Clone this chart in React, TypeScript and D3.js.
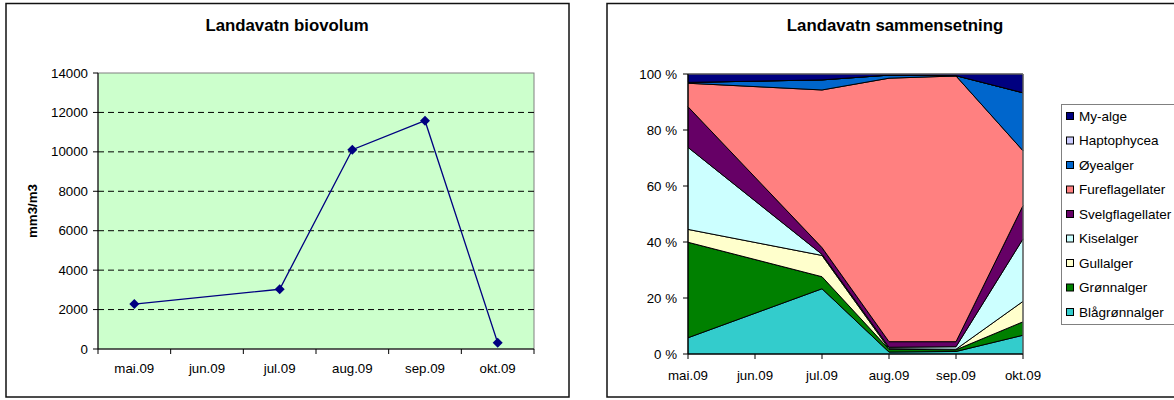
import React from "react";
import * as d3 from "d3";

const months = ["mai.09", "jun.09", "jul.09", "aug.09", "sep.09", "okt.09"];
const biovolum: (number | null)[] = [2280, null, 3030, 10110, 11580, 320];
const yTicksLeft = [0, 2000, 4000, 6000, 8000, 10000, 12000, 14000];
const yTicksRight = [0, 0.2, 0.4, 0.6, 0.8, 1];

// percentage composition per month (null = no sample)
const blagronnalger: (number | null)[] = [5.8, null, 23.3, 0.7, 0.9, 6.7];
const gronnalger: (number | null)[] = [34.1, null, 4.3, 1.0, 0.6, 4.8];
const gullalger: (number | null)[] = [4.6, null, 7.6, 0.2, 0.2, 7.3];
const kiselalger: (number | null)[] = [29.3, null, 0.4, 0.5, 0.9, 22.3];
const svelgflagellater: (number | null)[] = [14.5, null, 2.4, 2.0, 1.8, 11.9];
const fureflagellater: (number | null)[] = [8.4, null, 56.3, 94.1, 94.9, 19.6];
const oyealger: (number | null)[] = [0.3, null, 3.6, 1.1, 0.1, 20.7];
const haptophycea: (number | null)[] = [0, null, 0, 0, 0, 0];
const myalge: (number | null)[] = [3.0, null, 2.1, 0.4, 0.6, 6.7];

const seriesNames = [
  "Blågrønnalger",
  "Grønnalger",
  "Gullalger",
  "Kiselalger",
  "Svelgflagellater",
  "Fureflagellater",
  "Øyealger",
  "Haptophycea",
  "My-alge",
];
const seriesValues = [
  blagronnalger,
  gronnalger,
  gullalger,
  kiselalger,
  svelgflagellater,
  fureflagellater,
  oyealger,
  haptophycea,
  myalge,
];
const seriesColors = [
  "#33CCCC",
  "#008000",
  "#FFFFCC",
  "#CCFFFF",
  "#660066",
  "#FF8080",
  "#0066CC",
  "#CCCCFF",
  "#000080",
];

const FONT = "'Liberation Sans', Arial, sans-serif";

function LeftChart() {
  const x = d3.scaleBand<string>().domain(months).range([98, 534]);
  const y = d3.scaleLinear().domain([0, 14000]).range([349, 73]);
  const pts = months
    .map((m, i) => ({ m, v: biovolum[i] }))
    .filter((d) => d.v !== null) as { m: string; v: number }[];
  const line = d3
    .line<{ m: string; v: number }>()
    .x((d) => (x(d.m) as number) + x.bandwidth() / 2)
    .y((d) => y(d.v));
  const step = x.step();
  return (
    <g>
      <rect x={6} y={3.5} width={563} height={393.5} fill="#fff" stroke="#111" strokeWidth={1.5} />
      <text x={287} y={31} textAnchor="middle" fontFamily={FONT} fontWeight="bold" fontSize={16.8}>
        Landavatn biovolum
      </text>
      <rect x={98} y={73} width={436} height={276} fill="#CCFFCC" stroke="#808080" strokeWidth={1} />
      {yTicksLeft.slice(1, -1).map((t) => (
        <line key={t} x1={98} x2={534} y1={y(t)} y2={y(t)} stroke="#000" strokeDasharray="6,4" strokeWidth={1} />
      ))}
      <line x1={98} x2={98} y1={73} y2={349} stroke="#000" />
      <line x1={98} x2={534} y1={349} y2={349} stroke="#000" />
      {yTicksLeft.map((t) => (
        <g key={t}>
          <line x1={93} x2={98} y1={y(t)} y2={y(t)} stroke="#000" />
          <text x={88} y={y(t) + 4.5} textAnchor="end" fontFamily={FONT} fontSize={13.3}>
            {t}
          </text>
        </g>
      ))}
      {d3.range(months.length + 1).map((i) => (
        <line key={i} x1={98 + i * step} x2={98 + i * step} y1={349} y2={354} stroke="#000" />
      ))}
      {months.map((m) => (
        <text key={m} x={(x(m) as number) + x.bandwidth() / 2} y={373} textAnchor="middle" fontFamily={FONT} fontSize={13.3}>
          {m}
        </text>
      ))}
      <text
        transform={`translate(37,211) rotate(-90)`}
        textAnchor="middle"
        fontFamily={FONT}
        fontWeight="bold"
        fontSize={13.3}
      >
        mm3/m3
      </text>
      <path d={line(pts) || ""} fill="none" stroke="#000080" strokeWidth={1.3} />
      {pts.map((d) => {
        const cx = (x(d.m) as number) + x.bandwidth() / 2;
        const cy = y(d.v);
        return <path key={d.m} d={`M${cx},${cy - 5}L${cx + 5},${cy}L${cx},${cy + 5}L${cx - 5},${cy}Z`} fill="#000080" />;
      })}
    </g>
  );
}

function RightChart() {
  const x = d3.scalePoint<string>().domain(months).range([688, 1023]);
  const y = d3.scaleLinear().domain([0, 1]).range([354, 74]);
  const rows = months
    .map((m, i) => {
      const r: any = { m };
      seriesNames.forEach((s, k) => (r[s] = seriesValues[k][i]));
      return r;
    })
    .filter((r) => r[seriesNames[0]] !== null);
  const stack = d3.stack<any>().keys(seriesNames).offset(d3.stackOffsetExpand);
  const layers = stack(rows);
  const area = d3
    .area<any>()
    .x((d) => x(d.data.m) as number)
    .y0((d) => y(d[0]))
    .y1((d) => y(d[1]));
  const legendTop = 104;
  return (
    <g>
      <rect x={607} y={3.5} width={600} height={393.5} fill="#fff" stroke="#111" strokeWidth={1.5} />
      <text x={895} y={31} textAnchor="middle" fontFamily={FONT} fontWeight="bold" fontSize={16.8}>
        Landavatn sammensetning
      </text>
      {layers.map((l, k) => (
        <path key={l.key} d={area(l) || ""} fill={seriesColors[k]} stroke="#000" strokeWidth={1} strokeLinejoin="round" />
      ))}
      <line x1={688} x2={1023} y1={74} y2={74} stroke="#808080" />
      <line x1={1023} x2={1023} y1={74} y2={354} stroke="#808080" />
      <line x1={688} x2={688} y1={74} y2={354} stroke="#000" />
      <line x1={688} x2={1023} y1={354} y2={354} stroke="#000" />
      {yTicksRight.map((t) => (
        <g key={t}>
          <line x1={683} x2={688} y1={y(t)} y2={y(t)} stroke="#000" />
          <text x={677} y={y(t) + 4.5} textAnchor="end" fontFamily={FONT} fontSize={13.3}>
            {`${Math.round(t * 100)} %`}
          </text>
        </g>
      ))}
      {months.map((m) => (
        <g key={m}>
          <line x1={x(m) as number} x2={x(m) as number} y1={354} y2={359} stroke="#000" />
          <text x={x(m) as number} y={380} textAnchor="middle" fontFamily={FONT} fontSize={13.3}>
            {m}
          </text>
        </g>
      ))}
      <rect x={1061.5} y={legendTop + 0.5} width={130} height={220} fill="#fff" stroke="#808080" strokeWidth={1} />
      {seriesNames
        .map((s, k) => ({ s, c: seriesColors[k] }))
        .reverse()
        .map((d, i) => {
          const cy = 116 + i * 24.5;
          return (
            <g key={d.s}>
              <rect x={1066.5} y={cy - 3.5} width={7} height={7} fill={d.c} stroke="#000" strokeWidth={1} />
              <text x={1079} y={cy + 4.5} fontFamily={FONT} fontSize={13.5}>
                {d.s}
              </text>
            </g>
          );
        })}
    </g>
  );
}

export default function App() {
  return (
    <svg
      width={1174}
      height={400}
      style={{ position: "absolute", left: 0, top: 0, background: "#fff" }}
    >
      <LeftChart />
      <RightChart />
    </svg>
  );
}
